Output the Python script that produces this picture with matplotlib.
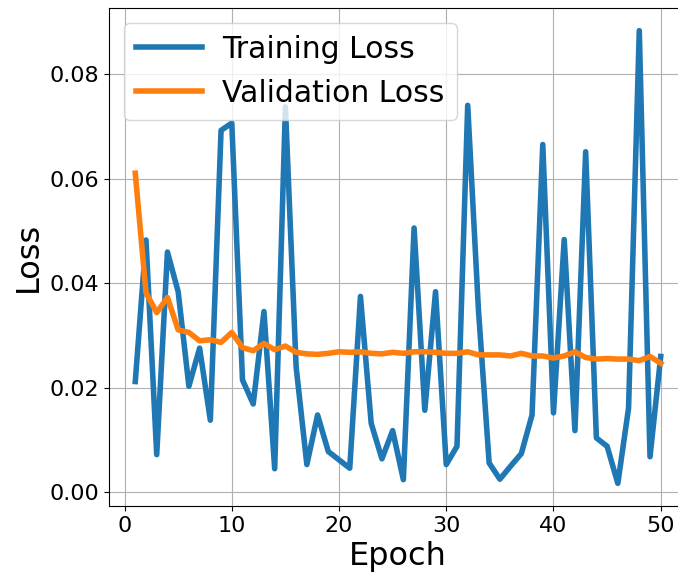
import matplotlib
matplotlib.use('Agg')
import matplotlib.pyplot as plt

epochs = list(range(1, 51))

train_loss = [
    0.0212, 0.0483, 0.0072, 0.0460, 0.0384, 0.0203, 0.0276, 0.0138, 0.0693, 0.0707,
    0.0215, 0.0169, 0.0346, 0.0045, 0.0738, 0.0240, 0.0053, 0.0148, 0.0078, 0.0062,
    0.0046, 0.0375, 0.0132, 0.0064, 0.0118, 0.0024, 0.0506, 0.0157, 0.0384, 0.0053,
    0.0088, 0.0741, 0.0350, 0.0056, 0.0025, 0.0050, 0.0074, 0.0148, 0.0666, 0.0152,
    0.0484, 0.0118, 0.0652, 0.0104, 0.0088, 0.0017, 0.0161, 0.0884, 0.0068, 0.0260,
]

val_loss = [
    0.0611, 0.0382, 0.0344, 0.0373, 0.0311, 0.0306, 0.0290, 0.0292, 0.0287, 0.0306,
    0.0277, 0.0271, 0.0285, 0.0273, 0.0280, 0.0268, 0.0265, 0.0264, 0.0266, 0.0269,
    0.0268, 0.0269, 0.0266, 0.0265, 0.0268, 0.0266, 0.0269, 0.0269, 0.0268, 0.0266,
    0.0266, 0.0269, 0.0263, 0.0263, 0.0263, 0.0261, 0.0266, 0.0261, 0.0261, 0.0257,
    0.0261, 0.0269, 0.0258, 0.0255, 0.0256, 0.0255, 0.0255, 0.0252, 0.0260, 0.0247,
]

fig = plt.figure(figsize=(6.78, 5.82), dpi=100)
# axes run past the right edge, like the cropped original
ax = fig.add_axes([109 / 678, 76 / 582, 578 / 678, 498 / 582])

ax.plot(epochs, train_loss, linewidth=4, label='Training Loss')
ax.plot(epochs, val_loss, linewidth=4, label='Validation Loss')

ax.set_xlabel('Epoch', fontsize=23)
ax.set_ylabel('Loss', fontsize=23)
ax.tick_params(labelsize=16)
ax.set_xticks([0, 10, 20, 30, 40, 50])
ax.grid(True)
ax.legend(loc='upper left', fontsize=21.5, handlelength=2.2, handletextpad=0.7)

fig.savefig('out.png', dpi=100)
